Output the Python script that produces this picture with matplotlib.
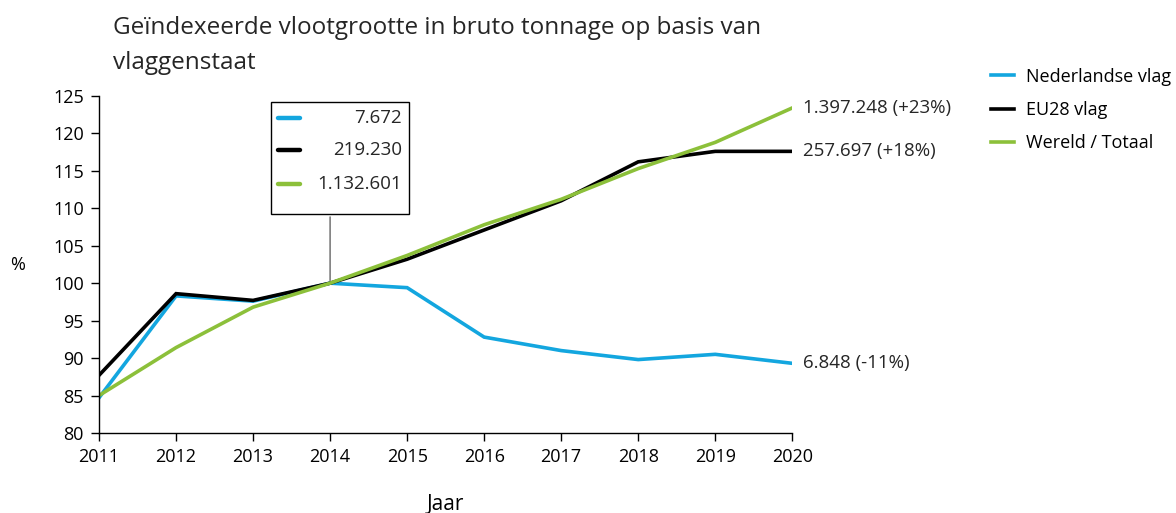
import matplotlib.pyplot as plt
import matplotlib.lines as mlines

plt.rcParams['font.family'] = ['Open Sans', 'DejaVu Sans']

years = [2011, 2012, 2013, 2014, 2015, 2016, 2017, 2018, 2019, 2020]
nl = [84.7, 98.3, 97.6, 100.0, 99.4, 92.8, 91.0, 89.8, 90.5, 89.3]
eu = [87.7, 98.6, 97.7, 100.0, 103.2, 107.1, 111.0, 116.2, 117.6, 117.6]
world = [85.0, 91.4, 96.8, 100.0, 103.7, 107.8, 111.2, 115.3, 118.8, 123.4]

labels = ['Nederlandse vlag', 'EU28 vlag', 'Wereld / Totaal']
colors = ['#13A6DF', '#000000', '#8CC03A']
base_2014 = ['7.672', '219.230', '1.132.601']
end_labels = ['6.848 (-11%)', '257.697 (+18%)', '1.397.248 (+23%)']

fig = plt.figure(figsize=(11.76, 5.13), dpi=100)
ax = fig.add_axes([0.0842, 0.156, 0.5895, 0.657])

series = [nl, eu, world]
handles = []
for vals, lab, col in zip(series, labels, colors):
    h, = ax.plot(years, vals, color=col, lw=2.6, label=lab, solid_joinstyle='miter')
    handles.append(h)

ax.set_xlim(2011, 2020)
ax.set_ylim(80, 125)
ax.set_xticks(years)
ax.set_yticks(range(80, 126, 5))
for s in ['top', 'right']:
    ax.spines[s].set_visible(False)
for s in ['left', 'bottom']:
    ax.spines[s].set_color('#000000')
    ax.spines[s].set_linewidth(1.0)
ax.tick_params(axis='both', direction='out', length=6, width=1, labelsize=13, colors='#000000')
ax.tick_params(axis='y', pad=5)
ax.tick_params(axis='x', pad=5)

fig.text(18 / 1176, 1 - 265 / 513, '%', fontsize=13, va='center', ha='center')
ax.set_xlabel('Jaar', fontsize=15, labelpad=20)

fig.text(0.096, 0.968, 'Geïndexeerde vlootgrootte in bruto tonnage op basis van\nvlaggenstaat',
         fontsize=17.5, va='top', ha='left', color='#262626', linespacing=1.6)

# end labels
for vals, txt in zip(series, end_labels):
    ax.annotate(txt, xy=(years[-1], vals[-1]), xytext=(8, 0), textcoords='offset points',
                va='center', ha='left', fontsize=13.5, color='#262626', annotation_clip=False)

# callout box for 2014
box_x0, box_x1 = 2013.23, 2015.03
box_y0, box_y1 = 109.2, 124.2
ax.annotate('', xy=(2014, 100), xytext=(2014, box_y0),
            arrowprops=dict(arrowstyle='-', color='#7f7f7f', lw=1.2))
ax.add_patch(plt.Rectangle((box_x0, box_y0), box_x1 - box_x0, box_y1 - box_y0,
                           fill=True, facecolor='white', edgecolor='#000000', lw=1.0,
                           clip_on=False, zorder=5))
row_y = [122.0, 117.8, 113.3]
for yy, col, txt in zip(row_y, colors, base_2014):
    ax.add_line(mlines.Line2D([box_x0 + 0.09, box_x0 + 0.38], [yy, yy], color=col, lw=3.2,
                              zorder=6, clip_on=False, solid_capstyle='round'))
    ax.text(box_x1 - 0.1, yy, txt, ha='right', va='center', fontsize=13.5, color='#262626',
            zorder=6, clip_on=False)

fig.legend(handles=handles, labels=labels, loc='upper left', bbox_to_anchor=(0.829, 0.9),
           frameon=False, fontsize=13, handlelength=1.25, handletextpad=0.7,
           labelspacing=0.85)

fig.savefig('out.png', dpi=100)
